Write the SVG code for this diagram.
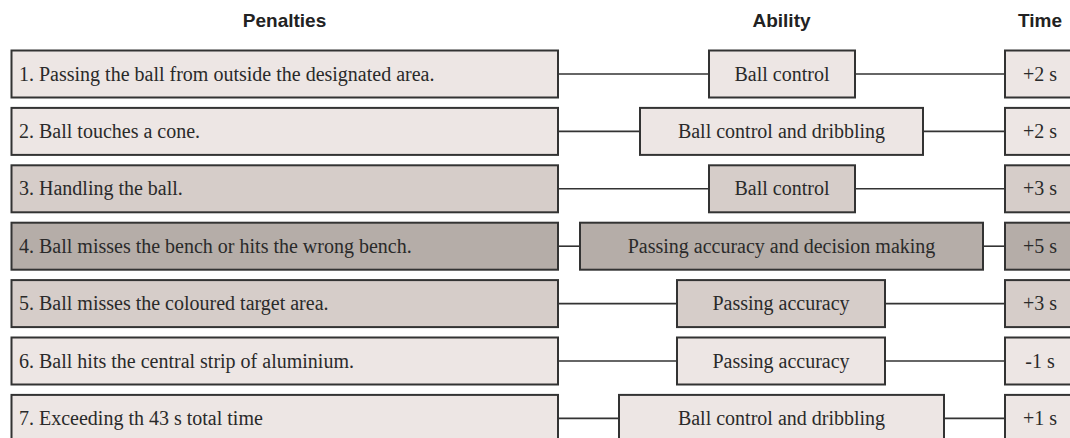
<svg xmlns="http://www.w3.org/2000/svg" width="1070" height="438" viewBox="0 0 1070 438">
<style>
.hdr{font-family:"Liberation Sans",Arial,sans-serif;font-weight:bold;font-size:19px;fill:#222;text-anchor:middle}
.t{font-family:"Liberation Serif","Times New Roman",serif;font-size:20px;fill:#2a2a2a}
.c{text-anchor:middle}
.box{stroke:#333;stroke-width:2}
.l1{fill:#ede6e4}.l2{fill:#d6cdc9}.l3{fill:#b5ada8}
.conn line{stroke:#333;stroke-width:1.6}
</style>
<rect width="1070" height="438" fill="#fff"/>
<g id="headers">
<text class="hdr" x="284.5" y="26.5">Penalties</text>
<text class="hdr" x="781.5" y="26.5">Ability</text>
<text class="hdr" x="1040" y="26.5">Time</text>
</g>
<g class="conn" id="connectors">
<line x1="558" y1="74" x2="709" y2="74"/><line x1="855" y1="74" x2="1005" y2="74"/>
<line x1="558" y1="131.4" x2="640" y2="131.4"/><line x1="923" y1="131.4" x2="1005" y2="131.4"/>
<line x1="558" y1="188.8" x2="709" y2="188.8"/><line x1="855" y1="188.8" x2="1005" y2="188.8"/>
<line x1="558" y1="246.2" x2="580" y2="246.2"/><line x1="983" y1="246.2" x2="1005" y2="246.2"/>
<line x1="558" y1="303.6" x2="677" y2="303.6"/><line x1="885" y1="303.6" x2="1005" y2="303.6"/>
<line x1="558" y1="361" x2="677" y2="361"/><line x1="885" y1="361" x2="1005" y2="361"/>
<line x1="558" y1="418.4" x2="619" y2="418.4"/><line x1="944" y1="418.4" x2="1005" y2="418.4"/>
</g>
<g id="row1">
<rect class="box l1" x="11.5" y="50.5" width="546.5" height="47"/><text class="t" x="19" y="80.5">1. Passing the ball from outside the designated area.</text>
<rect class="box l1" x="709" y="50.5" width="146" height="47"/><text class="t c" x="782" y="80.5">Ball control</text>
<rect class="box l1" x="1005" y="50.5" width="75" height="47"/><text class="t c" x="1040" y="80.5">+2 s</text>
</g>
<g id="row2">
<rect class="box l1" x="11.5" y="107.9" width="546.5" height="47"/><text class="t" x="19" y="137.9">2. Ball touches a cone.</text>
<rect class="box l1" x="640" y="107.9" width="283" height="47"/><text class="t c" x="781.5" y="137.9">Ball control and dribbling</text>
<rect class="box l1" x="1005" y="107.9" width="75" height="47"/><text class="t c" x="1040" y="137.9">+2 s</text>
</g>
<g id="row3">
<rect class="box l2" x="11.5" y="165.3" width="546.5" height="47"/><text class="t" x="19" y="195.3">3. Handling the ball.</text>
<rect class="box l2" x="709" y="165.3" width="146" height="47"/><text class="t c" x="782" y="195.3">Ball control</text>
<rect class="box l2" x="1005" y="165.3" width="75" height="47"/><text class="t c" x="1040" y="195.3">+3 s</text>
</g>
<g id="row4">
<rect class="box l3" x="11.5" y="222.7" width="546.5" height="47"/><text class="t" x="19" y="252.7">4. Ball misses the bench or hits the wrong bench.</text>
<rect class="box l3" x="580" y="222.7" width="403" height="47"/><text class="t c" x="781.5" y="252.7">Passing accuracy and decision making</text>
<rect class="box l3" x="1005" y="222.7" width="75" height="47"/><text class="t c" x="1040" y="252.7">+5 s</text>
</g>
<g id="row5">
<rect class="box l2" x="11.5" y="280.1" width="546.5" height="47"/><text class="t" x="19" y="310.1">5. Ball misses the coloured target area.</text>
<rect class="box l2" x="677" y="280.1" width="208" height="47"/><text class="t c" x="781" y="310.1">Passing accuracy</text>
<rect class="box l2" x="1005" y="280.1" width="75" height="47"/><text class="t c" x="1040" y="310.1">+3 s</text>
</g>
<g id="row6">
<rect class="box l1" x="11.5" y="337.5" width="546.5" height="47"/><text class="t" x="19" y="367.5">6. Ball hits the central strip of aluminium.</text>
<rect class="box l1" x="677" y="337.5" width="208" height="47"/><text class="t c" x="781" y="367.5">Passing accuracy</text>
<rect class="box l1" x="1005" y="337.5" width="75" height="47"/><text class="t c" x="1040" y="367.5">-1 s</text>
</g>
<g id="row7">
<rect class="box l1" x="11.5" y="394.9" width="546.5" height="47"/><text class="t" x="19" y="424.9">7. Exceeding th 43 s total time</text>
<rect class="box l1" x="619" y="394.9" width="325" height="47"/><text class="t c" x="781.5" y="424.9">Ball control and dribbling</text>
<rect class="box l1" x="1005" y="394.9" width="75" height="47"/><text class="t c" x="1040" y="424.9">+1 s</text>
</g>
</svg>
